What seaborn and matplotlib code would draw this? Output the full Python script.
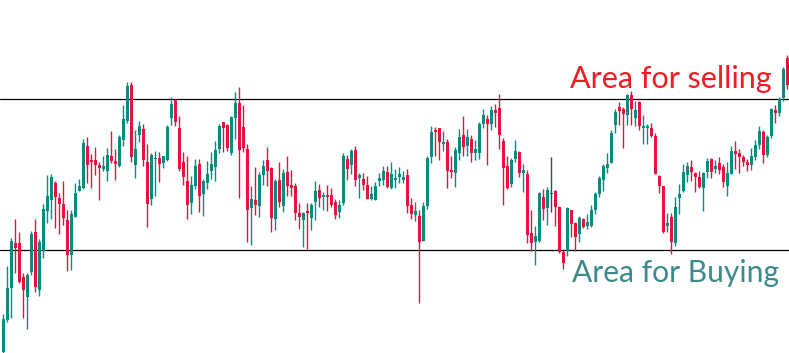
import matplotlib
matplotlib.use("Agg")
import matplotlib.pyplot as plt
import seaborn as sns
import numpy as np

# OHLC values (price units, 1 unit ~ 1 px)
open_ = [1, 33, 65, 110, 110, 76, 56, 81, 121, 63,
         102, 142.3, 153, 170, 155, 149, 133, 98.3, 136.3, 162.3,
         165, 207, 193, 193, 188, 184, 182.3, 197, 192, 187,
         213, 232, 268, 188, 218, 224, 191, 154.3, 194.3, 195,
         190.3, 193, 235, 253, 225, 191, 172, 150.3, 167.3, 189,
         159.3, 170.3, 182.3, 186.3, 204.3, 231, 228, 200.3, 235.3, 250,
         226, 204, 145.3, 153, 147.3, 178.3, 193, 185, 134.3, 173,
         147.3, 181, 168, 167, 140, 133.3, 142, 135.3, 151.3, 163,
         156.3, 158, 158, 151, 141.3, 150.3, 194, 188.3, 203, 175.3,
         174, 168, 154.3, 153.3, 172.3, 173.3, 181, 165.3, 173.3, 175.7,
         173.3, 178, 148, 138.3, 137, 112.3, 147.3, 196, 223, 225,
         209.3, 211, 183, 180.3, 200.3, 218, 207.3, 214, 200.3, 200.3,
         229, 234, 229.3, 243, 245, 212, 187, 169.3, 194.3, 201,
         180.3, 179, 120.3, 111.3, 112.3, 156, 145.3, 158.7, 162, 146.3,
         101.3, 102.3, 143, 130.3, 119.3, 134.3, 127.3, 127.3, 143.3, 159.3,
         173.3, 185.3, 190.3, 228.3, 246, 244, 238.3, 258, 235.3, 251,
         225.3, 225.3, 225, 217.3, 177, 166.7, 127.3, 136.3, 110, 155.3,
         162.3, 178.3, 186.3, 180, 176.3, 165.3, 180.7, 193.7, 183.7, 190.3,
         185.7, 167.3, 178.7, 202, 199.7, 195.7, 191, 188.3, 195.7, 208,
         221, 197.7, 217.3, 243, 240.3, 255, 295]

high = [39, 87, 114.7, 134, 121, 80.3, 80.3, 122, 134, 114,
        149, 178, 179, 172, 160, 172, 143, 143, 170, 174,
        214, 216, 199, 206, 191, 197, 205, 222, 204, 218,
        248, 271, 271, 223, 232, 229, 209, 200, 202, 201,
        197, 228, 256, 254, 237, 201, 197, 177, 194, 194,
        174, 192, 201, 212, 229, 231, 229, 237, 261, 266,
        248, 209, 167, 186, 181, 193, 206, 186, 174, 191,
        184, 197, 183, 170, 150, 141, 150, 150, 172, 169,
        161, 168, 165, 154, 153, 200, 198, 204, 207, 180,
        180, 177, 167, 171, 180, 187, 187, 191, 184, 186,
        182, 184, 155, 151, 143, 151, 197, 227, 226, 225,
        222, 214, 197, 206, 224, 237, 224, 218, 213, 231,
        244, 238, 247, 249, 259, 215, 197, 195, 213, 202,
        189, 183, 143, 127.3, 161, 164, 166.3, 196, 163, 147,
        103.3, 146.3, 143, 131.3, 137.3, 135.3, 139.3, 148.3, 161.3, 177,
        189, 200, 223, 244, 251, 246, 259, 262, 252, 252,
        238, 229, 230, 219.7, 178, 166.7, 140.3, 140.3, 156.3, 169.3,
        189.3, 191.3, 193, 181, 182.3, 181.3, 194.7, 194.7, 193, 195.7,
        189, 191, 206.7, 212.3, 204.3, 197.7, 193.7, 204.7, 212.7, 227.3,
        222.7, 217.7, 245.3, 247.7, 256.3, 286, 298]

low = [-2, 31.3, 35.3, 80.3, 70.3, 35.3, 24.3, 78, 61.3, 57.3,
       95.3, 130.3, 134.3, 125.3, 119.3, 128.3, 82.3, 83, 136.3, 162.3,
       164, 170.3, 165.3, 178, 153.3, 182.3, 172.3, 190, 173.3, 186,
       207, 230, 191, 175.3, 211.3, 187.3, 126.3, 148.3, 157.3, 171.3,
       185.3, 192.3, 228, 227.3, 182.3, 168.3, 134.3, 139.3, 164.3, 141.3,
       137.3, 164.3, 174.3, 172.3, 200.3, 201.3, 202, 198.3, 214, 155.3,
       201.3, 111.3, 108.3, 138.3, 135.7, 168.3, 167.3, 121.3, 123.3, 146.3,
       141.3, 157.3, 157.3, 133.3, 124.3, 106.3, 104.3, 123.3, 133.3, 146.3,
       143.3, 142.3, 146.3, 134.3, 135.3, 148.3, 173.3, 179.3, 167.3, 155.3,
       163.3, 154.3, 153.3, 153.3, 167.3, 168.3, 165.3, 164.3, 165, 170.3,
       170.3, 140.3, 134.3, 132.3, 50.3, 112.3, 144.3, 190.3, 197.3, 193.3,
       202.3, 165.3, 175.3, 166.3, 193.3, 197.3, 197.3, 191.3, 193.3, 194.3,
       225.3, 188.3, 223.3, 226.3, 204.3, 148.3, 164.3, 166.3, 191.3, 176.3,
       161.3, 110.3, 102.3, 88.3, 111.3, 133.3, 128.3, 141.3, 127.3, 100.3,
       84.3, 97.3, 116.3, 102.3, 111.3, 125.3, 124.3, 126.3, 139.3, 156.3,
       162.3, 180.3, 190.3, 220.3, 228.3, 205.3, 228.3, 228.3, 227.3, 223.3,
       209.3, 209.3, 216.3, 178.7, 159.7, 119.7, 121.3, 99, 107, 139.3,
       161.3, 171.3, 172.3, 161.3, 165.3, 142.3, 174.7, 175.3, 180, 179.3,
       166.3, 157.3, 178.7, 184.3, 180, 187, 182.3, 182.7, 193.3, 204,
       189.7, 195.7, 215.3, 230, 237, 252, 264]

close = [34, 65, 112, 105.3, 71, 63, 78, 119, 66, 111,
         144, 157, 176, 156, 149, 135, 98.3, 139, 160, 167,
         210, 188, 191, 188, 185, 187, 198, 192, 189, 216,
         234, 267, 196, 204, 227, 193.3, 149.3, 198, 195, 189.3,
         197, 226, 249, 231.3, 184, 176.3, 148.3, 168, 187, 157.3,
         172, 179, 189, 203, 227, 225.3, 205.3, 236, 250, 203.3,
         205.3, 143.3, 154.3, 148.3, 178, 187, 182.3, 135.3, 172, 151.3,
         180, 167.3, 165.3, 140.3, 136.3, 140, 140.3, 148, 162, 155.3,
         158, 156.3, 148.3, 138.3, 148, 197, 184.3, 202, 173.3, 178,
         168, 154.3, 159, 167, 175, 182, 166.3, 179, 175, 179,
         176, 147.3, 139.3, 142, 111.3, 147, 195, 221, 221, 211.3,
         211, 182.3, 181.3, 203, 216, 206.3, 216, 200.3, 204, 229,
         238, 229.3, 243, 240.3, 218.3, 185.3, 165.3, 193, 202, 180.3,
         183, 118.3, 110.3, 117.3, 160, 144.3, 163, 158.7, 146.3, 101.3,
         90.3, 145.3, 129.3, 116.3, 135.3, 126.3, 131.3, 143.3, 159.3, 175,
         187, 189, 220, 241, 242.3, 239.3, 258, 244.3, 243, 227.3,
         227, 227, 217.3, 178.7, 166.7, 120.7, 130.3, 111, 146.3, 159.3,
         181, 187, 181, 176.3, 166.3, 180, 192, 181, 187.3, 183,
         171, 180.3, 202, 198.7, 196.3, 191, 187.7, 196.7, 207.7, 221.7,
         197.7, 216.3, 244, 240, 254.3, 284, 268]

sell_level = 254
buy_level = 103

bull = "#0a8a81"
bear = "#e6133f"
doji = "#2f4f4f"

sns.set_theme(style="white")
plt.rcParams['font.family'] = ['Lato', 'DejaVu Sans']

o = np.array(open_)
c = np.array(close)
x = np.arange(len(o))
colors = np.where(c > o, bull, np.where(c < o, bear, doji))

fig = plt.figure(figsize=(7.89, 3.53), dpi=100)
ax = fig.add_axes([0, 0, 1, 1])

# support / resistance lines
ax.axhline(sell_level, color="black", lw=0.9, zorder=1)
ax.axhline(buy_level, color="black", lw=0.9, zorder=1)

# wicks and bodies
ax.vlines(x, low, high, colors=colors, lw=1.0, zorder=2)
body = np.maximum(np.abs(c - o), 1.2)
ax.bar(x, body, bottom=np.minimum(o, c), width=0.75, color=colors,
       linewidth=0, zorder=3)

ax.text(141.7, 265, "Area for selling", color="#f01c24", fontsize=22,
        va="baseline", ha="left")
ax.text(142.2, 71, "Area for Buying", color="#3d8a8c", fontsize=21.6,
        va="baseline", ha="left")

ax.set_xlim(-0.825, 196.4)
ax.set_ylim(0, 353)
ax.axis("off")

fig.savefig("out.png", dpi=100, facecolor="white")
